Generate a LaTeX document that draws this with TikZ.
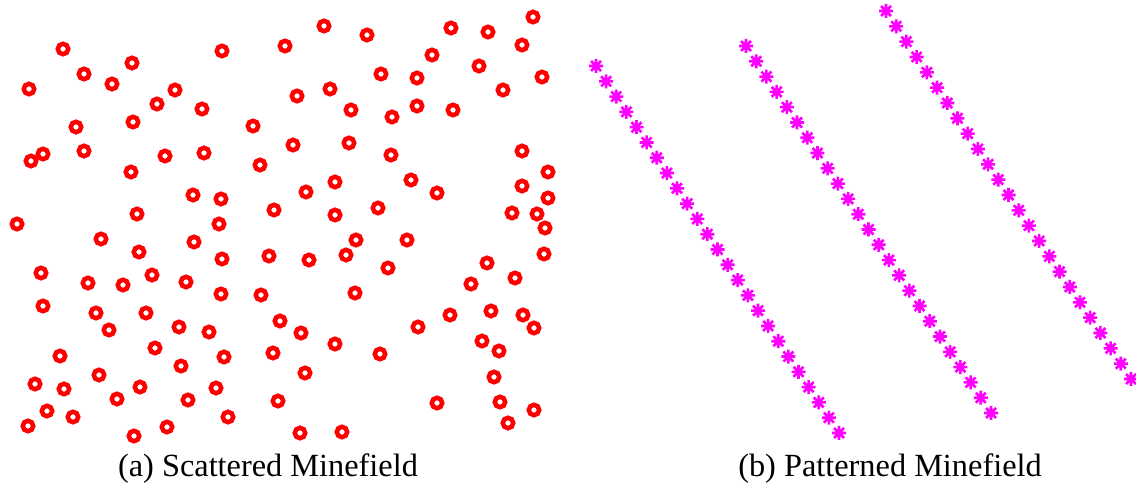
\documentclass[tikz,border=0pt]{standalone}
\usepackage{fontspec}
\setmainfont{Liberation Serif}
\usepackage{tikz}
\usetikzlibrary{positioning}
\definecolor{minecol}{HTML}{FF0000}
\definecolor{patterncol}{HTML}{FF00FF}
\tikzset{
  mine/.style={minecol, line width=2.6pt},
  pics/minestar/.style={code={
    \draw[patterncol, line width=1.5pt] (-7,0) -- (7,0) (0,-7) -- (0,7)
      (-5,-5) -- (5,5) (-5,5) -- (5,-5);
  }},
  caption/.style={anchor=base, inner sep=0pt}
}
\begin{document}
\begin{tikzpicture}[x=0.02cm, y=-0.02cm, font=\fontsize{18.4}{22}\selectfont]
\useasboundingbox (0,0) rectangle (1136,489);

\foreach \x/\y in {533/17,324/26,451/28,488/32,367/35,63/49,222/51,285/46,432/55,522/45,
  132/63,84/74,112/84,479/66,381/74,417/78,542/77,29/89,175/90,157/104,297/96,330/89,503/90,
  202/109,351/110,417/106,453/110,392/117,133/122,76/127,253/126,
  84/151,43/154,31/161,165/156,204/153,293/145,349/143,391/155,522/151,131/172,260/165,
  411/180,437/193,522/186,548/172,193/195,221/199,306/192,335/182,548/198,
  137/214,274/210,335/215,378/208,512/213,537/214,17/224,219/224,545/228,
  101/239,194/242,356/240,407/240,139/252,222/259,269/256,309/260,346/255,544/254,
  41/273,152/275,388/268,487/263,88/283,123/285,186/282,515/278,221/294,261/295,355/293,471/284,
  43/306,96/313,146/313,450/315,491/311,523/315,109/330,179/327,209/332,280/321,301/333,418/327,534/328,
  482/341,499/351,155/348,224/357,273/353,335/344,380/354,60/356,181/366,99/375,305/373,494/377,
  35/384,64/389,140/387,216/388,188/400,117/399,278/401,437/403,500/402,534/410,
  47/411,73/417,228/417,28/426,167/427,508/423,134/436,300/433,342/432}{
  \draw[mine] (\x,\y) circle[radius=5.2];
}

\foreach \sx/\sy/\ex/\ey in {596/66/839/433,746/46/991/413,886/11/1131/379}{
  \foreach \i in {0,...,24}{
    \pic at ({\sx+(\ex-\sx)*\i/24},{\sy+(\ey-\sy)*\i/24}) {minestar};
  }
}

\node[caption] (capA) at (268,477) {(a) Scattered Minefield};
\node[caption] (capB) at (890,477) {(b) Patterned Minefield};
\end{tikzpicture}
\end{document}
